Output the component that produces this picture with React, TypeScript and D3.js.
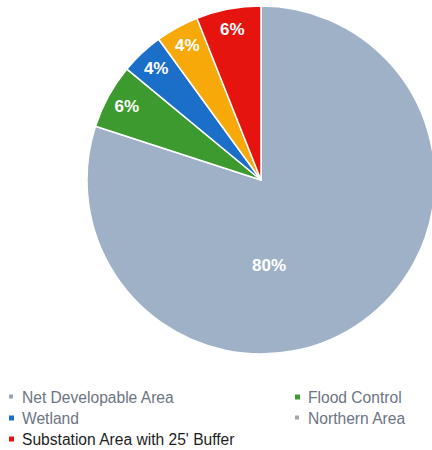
import React from "react";
import * as d3 from "d3";

const categories = [
  "Net Developable Area",
  "Flood Control",
  "Wetland",
  "Northern Area",
  "Substation Area with 25' Buffer",
];
const values = [80, 6, 4, 4, 6];
const labels = ["80%", "6%", "4%", "4%", "6%"];
const sliceColors = ["#9fb1c7", "#3c9a2e", "#1b6fc8", "#f7a90a", "#e6140f"];
const legendMarkerColors = ["#98a3b0", "#3c9a2e", "#1b6fc8", "#a5a5a5", "#e6140f"];
const legendTextColors = ["#6c7584", "#6c7584", "#6c7584", "#6c7584", "#1e1e1e"];

export default function App() {
  const width = 432;
  const height = 450;
  const cx = 261;
  const cy = 180;
  const r = 174;

  const pie = d3
    .pie<number>()
    .sort(null)
    .startAngle(0)
    .endAngle(2 * Math.PI)
    .value((d) => d);
  const arcs = pie(values);
  const arcGen = d3.arc<d3.PieArcDatum<number>>().innerRadius(0).outerRadius(r);
  const labelArc = d3
    .arc<d3.PieArcDatum<number>>()
    .innerRadius(r * 0.88)
    .outerRadius(r * 0.88);

  const legendItems = [
    { i: 0, x: 9, y: 397 },
    { i: 1, x: 295, y: 397 },
    { i: 2, x: 9, y: 418 },
    { i: 3, x: 295, y: 418 },
    { i: 4, x: 9, y: 439 },
  ];

  return (
    <svg
      width={width}
      height={height}
      style={{ position: "absolute", left: 0, top: 0, background: "#fff" }}
      fontFamily="'Liberation Sans', Arial, sans-serif"
    >
      <g transform={`translate(${cx},${cy})`}>
        {arcs.map((a, i) => (
          <path
            key={i}
            d={arcGen(a) || ""}
            fill={sliceColors[i]}
            stroke="#ffffff"
            strokeWidth={1.5}
            strokeLinejoin="round"
          />
        ))}
        {arcs.map((a, i) => {
          let [lx, ly] = labelArc.centroid(a);
          if (i === 0) {
            lx = 8;
            ly = 85;
          }
          return (
            <text
              key={"l" + i}
              x={lx}
              y={ly}
              textAnchor="middle"
              dominantBaseline="central"
              fill="#ffffff"
              fontWeight="bold"
              fontSize={17}
            >
              {labels[i]}
            </text>
          );
        })}
      </g>
      {legendItems.map(({ i, x, y }) => (
        <g key={"lg" + i}>
          <rect
            x={x}
            y={y - 2.5}
            width={i === 0 || i === 3 ? 4 : 5}
            height={i === 0 || i === 3 ? 4 : 5}
            fill={legendMarkerColors[i]}
          />
          <text
            x={x + 13}
            y={y}
            dominantBaseline="central"
            fontSize={15.6}
            fill={legendTextColors[i]}
          >
            {categories[i]}
          </text>
        </g>
      ))}
    </svg>
  );
}
